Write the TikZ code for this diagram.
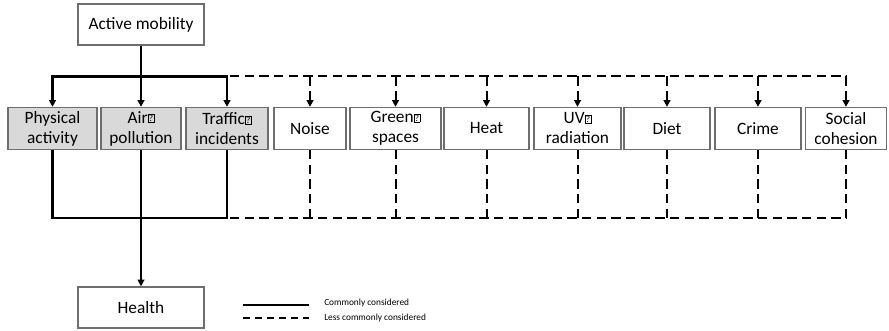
\documentclass[tikz,border=0pt]{standalone}
\usepackage{fontspec}
\setmainfont{Carlito}
\usetikzlibrary{arrows.meta}
\newcommand\qmark{{\fboxsep=0.5pt\fboxrule=0.4pt\raisebox{1pt}{\fbox{\fontsize{7}{7}\selectfont ?}}}}
\definecolor{boxgrey}{HTML}{D9D9D9}
\definecolor{edgegrey}{HTML}{6E6E6E}
\begin{document}
\begin{tikzpicture}[x=0.75pt,y=-0.75pt,
  box/.style={draw=edgegrey,line width=1pt,fill=white,align=center,inner sep=0pt,
    font=\fontsize{13}{15}\selectfont},
  shaded/.style={box,fill=boxgrey},
  strong/.style={line width=1.8pt,black},
  weak/.style={line width=1.5pt,black,dash pattern=on 7pt off 4pt},
  tip/.style={-{Triangle[width=5pt,length=5pt]}}]
\useasboundingbox (0,0) rectangle (889,331);
% nodes
\node[box,minimum width=94.5pt,minimum height=30.75pt] (am) at (141,24.5) {Active mobility};
\node[shaded,minimum width=66.75pt,minimum height=31.5pt] (pa) at (52.5,128.5) {Physical\\activity};
\node[shaded,minimum width=60pt,minimum height=31.5pt] (ap) at (141,128.5) {Air\qmark\\pollution};
\node[shaded,minimum width=61.5pt,minimum height=31.5pt] (ti) at (227,128.5) {Traffic\qmark\\incidents};
\node[box,minimum width=54pt,minimum height=31.5pt] (no) at (310,128.5) {Noise};
\node[box,minimum width=68.25pt,minimum height=31.5pt] (gs) at (395.5,128.5) {Green\qmark\\spaces};
\node[box,minimum width=63.75pt,minimum height=31.5pt] (he) at (486.5,128.5) {Heat};
\node[box,minimum width=65.25pt,minimum height=31.5pt] (uv) at (577.5,128.5) {UV\qmark\\radiation};
\node[box,minimum width=64.5pt,minimum height=31.5pt] (di) at (667,128.5) {Diet};
\node[box,minimum width=64.5pt,minimum height=31.5pt] (cr) at (758,128.5) {Crime};
\node[box,minimum width=61pt,minimum height=31.5pt] (sc) at (846,128.5) {Social\\cohesion};
\node[box,minimum width=94.5pt,minimum height=30.75pt] (he2) at (141,307.5) {Health};
\coordinate (top) at (141,76.5);
\coordinate (bot) at (141,218);
% solid top
\draw[strong] (am.south) -- (top);
\draw[strong,tip] (top) -- (ap.north);
\draw[strong,tip] (top) -| (pa.north);
\draw[strong,tip] (top) -| (ti.north);
% dashed top
\draw[weak,tip] (ti.north |- top) ++(3,0) -| (sc.north);
\foreach \n in {no,gs,he,uv,di,cr}{
  \draw[weak,tip] (\n.north |- top) -- (\n.north);
}
% solid bottom
\draw[strong] (pa.south) |- (ti.south |- bot) -- (ti.south);
\draw[strong] (ap.south) -- (bot);
\draw[strong,tip] (bot) -- (he2.north);
% dashed bottom
\draw[weak] (ti.south |- bot) ++(3,0) -| (sc.south);
\foreach \n in {no,gs,he,uv,di,cr}{
  \draw[weak] (\n.south) -- (\n.south |- bot);
}
% legend
\coordinate (l1a) at (243,305); \coordinate (l1b) at (309,305);
\coordinate (l2a) at (243,318.5); \coordinate (l2b) at (309,318.5);
\draw[strong] (l1a) -- (l1b);
\draw[weak,dash pattern=on 5.5pt off 3.5pt] (l2a) -- (l2b);
\node[anchor=west,inner sep=0pt,font=\fontsize{7}{7}\selectfont] (lt1) at (324,303) {Commonly considered};
\node[anchor=west,inner sep=0pt,font=\fontsize{7}{7}\selectfont] (lt2) at (324,318.5) {Less commonly considered};
\end{tikzpicture}
\end{document}
